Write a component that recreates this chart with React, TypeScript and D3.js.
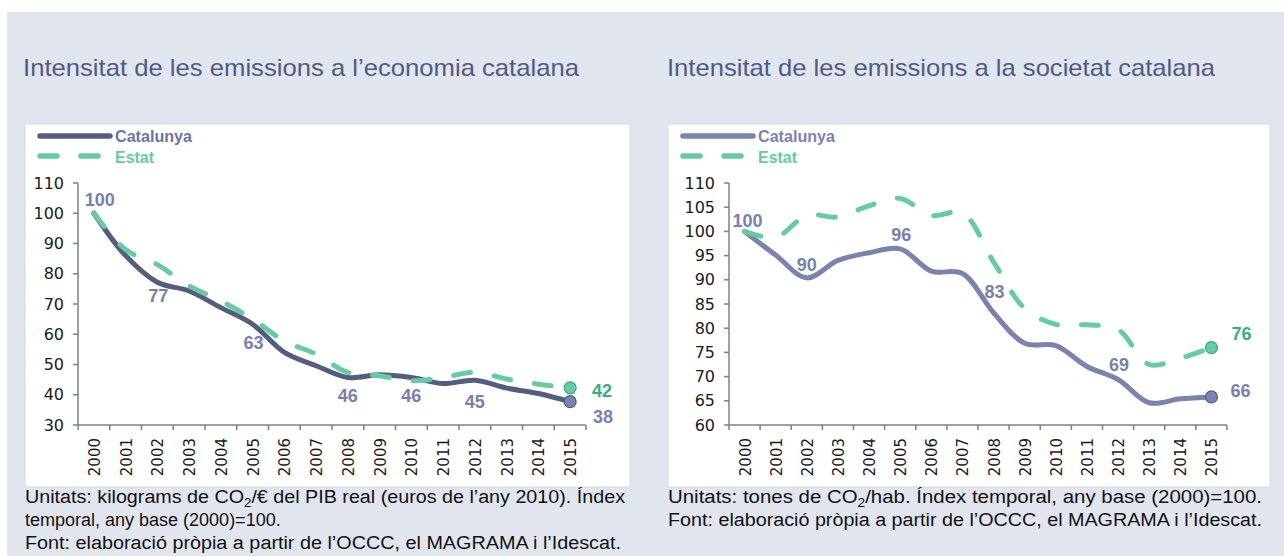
import React from "react";
import * as d3 from "d3";

// categories
const years = ["2000", "2001", "2002", "2003", "2004", "2005", "2006", "2007",
  "2008", "2009", "2010", "2011", "2012", "2013", "2014", "2015"];

// economia: kg CO2 / € PIB, index 2000=100
const econCatalunya = [100, 86, 77.2, 74.3, 68.8, 63.3, 54, 49.6, 45.7, 46.6, 45.7, 43.7, 44.8, 42.2, 40.4, 37.7];
const econEstat = [100, 88, 83, 76, 71, 65, 57.8, 53.4, 47.4, 46.3, 44.6, 45.7, 47.4, 45.2, 43.5, 42.3];
const econTicks = [30, 40, 50, 60, 70, 80, 90, 100, 110];

// societat: t CO2 / hab, index 2000=100
const socCatalunya = [100, 95.1, 90.4, 94, 95.6, 96.4, 91.8, 91.3, 83.2, 76.9, 76.4, 72.1, 69.4, 64.6, 65.4, 65.8];
const socEstat = [100, 98.8, 103.3, 103, 105.3, 106.8, 103.3, 103.8, 93.7, 84.1, 80.8, 80.7, 79.7, 72.5, 73.8, 76];
const socTicks = [60, 65, 70, 75, 80, 85, 90, 95, 100, 105, 110];

// which points get a value label: [series, year index]
const econLabelled: [string, number][] = [["cat", 0], ["cat", 2], ["cat", 5], ["cat", 8], ["cat", 10], ["cat", 12], ["cat", 15], ["est", 15]];
const socLabelled: [string, number][] = [["cat", 0], ["cat", 2], ["cat", 5], ["cat", 8], ["cat", 12], ["cat", 15], ["est", 15]];

const BG = "#E1E5EE";
const TITLE = "#4F5B82";
const GREEN = "#66CBA3";
const GREEN_DARK = "#3AAE7C";
const LABEL_SLATE = "#7880AE";
const AXIS = "#808080";

const panels = [
  {
    title: "Intensitat de les emissions a l\u2019economia catalana",
    titleX: 23, titleW: 556,
    box: [25, 124, 605, 363],
    x0: 78, x1: 586, yTop: 183, yBot: 425,
    cat: econCatalunya, est: econEstat, ticks: econTicks,
    catColor: "#545C80", catLegendText: "#6B74A5",
    labelled: econLabelled,
    offsets: [[6, -13], [1, 14], [1, 19], [0, 18], [0, 18], [0, 22], [33, 15], [32, 3]],
    notes: [
      { text: ["Unitats: kilograms de CO", "2", "/\u20AC del PIB real (euros de l\u2019any 2010). \u00CDndex"], w: 600 },
      { text: ["temporal, any base (2000)=100."], w: 0 },
      { text: ["Font: elaboraci\u00F3 pr\u00F2pia a partir de l\u2019OCCC, el MAGRAMA i l\u2019Idescat."], w: 596 },
    ],
  },
  {
    title: "Intensitat de les emissions a la societat catalana",
    titleX: 667, titleW: 548,
    box: [668, 124, 602, 363],
    x0: 729, x1: 1227, yTop: 183, yBot: 425,
    cat: socCatalunya, est: socEstat, ticks: socTicks,
    catColor: "#7A83AE", catLegendText: "#7A83AE",
    labelled: socLabelled,
    offsets: [[3, -10], [0, -13], [1, -14], [1, -21], [1, -15], [29, -6], [30, -14]],
    notes: [
      { text: ["Unitats: tones de CO", "2", "/hab. \u00CDndex temporal, any base (2000)=100."], w: 594 },
      { text: ["Font: elaboraci\u00F3 pr\u00F2pia a partir de l\u2019OCCC, el MAGRAMA i l\u2019Idescat."], w: 594 },
    ],
  },
];

const DASH = "17 24";

function Panel({ p }: { p: any }) {
  const x = d3.scaleBand<string>().domain(years).range([p.x0, p.x1]).padding(0);
  const y = d3.scaleLinear().domain([p.ticks[0], p.ticks[p.ticks.length - 1]]).range([p.yBot, p.yTop]);
  const bw = x.bandwidth();
  const cx = (i: number) => (x(years[i]) as number) + bw / 2;
  const line = d3.line<number>().x((_, i) => cx(i)).y((d) => y(d)).curve(d3.curveCatmullRom.alpha(0.5));
  const last = years.length - 1;
  const [bx, by, bwid, bh] = p.box;
  const lx = bx + 13;

  return (
    <g>
      <text x={p.titleX} y={76} fontSize={24} fill={TITLE} fontFamily="Liberation Sans, Arial, sans-serif"
        textLength={p.titleW} lengthAdjust="spacingAndGlyphs">{p.title}</text>
      <rect x={bx} y={by} width={bwid} height={bh} fill="#fff" stroke="#D6DAE2" strokeWidth={1} />

      {/* legend */}
      <line x1={lx + 2} x2={lx + 72} y1={136} y2={136} stroke={p.catColor} strokeWidth={5.5} strokeLinecap="round" />
      <text x={lx + 77} y={136} dominantBaseline="central" fontSize={17} fontWeight={600} fill={p.catLegendText}
        fontFamily="Liberation Sans Narrow, Liberation Sans, sans-serif" textLength={77} lengthAdjust="spacingAndGlyphs">Catalunya</text>
      <line x1={lx + 2} x2={lx + 72} y1={156} y2={156} stroke={GREEN} strokeWidth={5.5} strokeLinecap="round" strokeDasharray={DASH} />
      <text x={lx + 77} y={157} dominantBaseline="central" fontSize={17} fontWeight={600} fill={GREEN}
        fontFamily="Liberation Sans Narrow, Liberation Sans, sans-serif" textLength={39} lengthAdjust="spacingAndGlyphs">Estat</text>

      {/* y axis */}
      <line x1={p.x0} x2={p.x0} y1={p.yTop} y2={p.yBot} stroke={AXIS} strokeWidth={1.5} />
      {p.ticks.map((t: number) => (
        <g key={t}>
          <line x1={p.x0 - 5} x2={p.x0} y1={y(t)} y2={y(t)} stroke={AXIS} strokeWidth={1.5} />
          <text x={p.x0 - 14} y={y(t)} textAnchor="end" dominantBaseline="central" fontSize={16}
            fill="#1a1a1a" fontFamily="DejaVu Sans, sans-serif">{t}</text>
        </g>
      ))}

      {/* x axis */}
      <line x1={p.x0} x2={p.x1} y1={p.yBot} y2={p.yBot} stroke={AXIS} strokeWidth={1.5} />
      {d3.range(years.length + 1).map((i) => (
        <line key={i} x1={p.x0 + i * bw} x2={p.x0 + i * bw} y1={p.yBot} y2={p.yBot + 5} stroke={AXIS} strokeWidth={1.5} />
      ))}
      {years.map((yr, i) => (
        <text key={yr} transform={`translate(${cx(i) + 1},${p.yBot + 13}) rotate(-90)`} textAnchor="end"
          dominantBaseline="central" fontSize={15} fill="#1a1a1a" fontFamily="DejaVu Sans, sans-serif">{yr}</text>
      ))}

      {/* series */}
      <path d={line(p.cat) as string} fill="none" stroke={p.catColor} strokeWidth={5} strokeLinejoin="round" strokeLinecap="round" />
      <path d={line(p.est) as string} fill="none" stroke={GREEN} strokeWidth={5} strokeLinecap="round" strokeDasharray={DASH} />
      <circle cx={cx(last)} cy={y(p.cat[last])} r={6} fill="#7A84B0" stroke="#525A80" strokeWidth={1.2} />
      <circle cx={cx(last)} cy={y(p.est[last])} r={6} fill={GREEN} stroke="#3FA67A" strokeWidth={1.2} />

      {/* value labels */}
      {p.labelled.map(([s, i]: [string, number], k: number) => {
        const v = s === "cat" ? p.cat[i] : p.est[i];
        const [dx, dy] = p.offsets[k];
        return (
          <text key={k} x={cx(i) + dx} y={y(v) + dy} textAnchor="middle" dominantBaseline="central"
            fontSize={18} fontWeight="bold" fill={s === "cat" ? LABEL_SLATE : GREEN_DARK}
            fontFamily="Liberation Sans, Arial, sans-serif">{Math.round(v)}</text>
        );
      })}

      {/* notes */}
      {p.notes.map((n: any, k: number) => (
        <text key={k} x={bx} y={503 + k * 23} fontSize={18} fill="#111" fontFamily="Liberation Sans, Arial, sans-serif"
          {...(n.w ? { textLength: n.w, lengthAdjust: "spacingAndGlyphs" } : {})}>
          {n.text.length === 1 ? n.text[0] : (
            <>
              {n.text[0]}
              <tspan dy={4} fontSize={12}>{n.text[1]}</tspan>
              <tspan dy={-4}>{n.text[2]}</tspan>
            </>
          )}
        </text>
      ))}
    </g>
  );
}

export default function App() {
  return (
    <svg width={1284} height={556} style={{ position: "absolute", left: 0, top: 0, background: "#fff" }}>
      <rect x={7} y={12} width={1277} height={544} fill={BG} />
      {panels.map((p, i) => <Panel key={i} p={p} />)}
    </svg>
  );
}
